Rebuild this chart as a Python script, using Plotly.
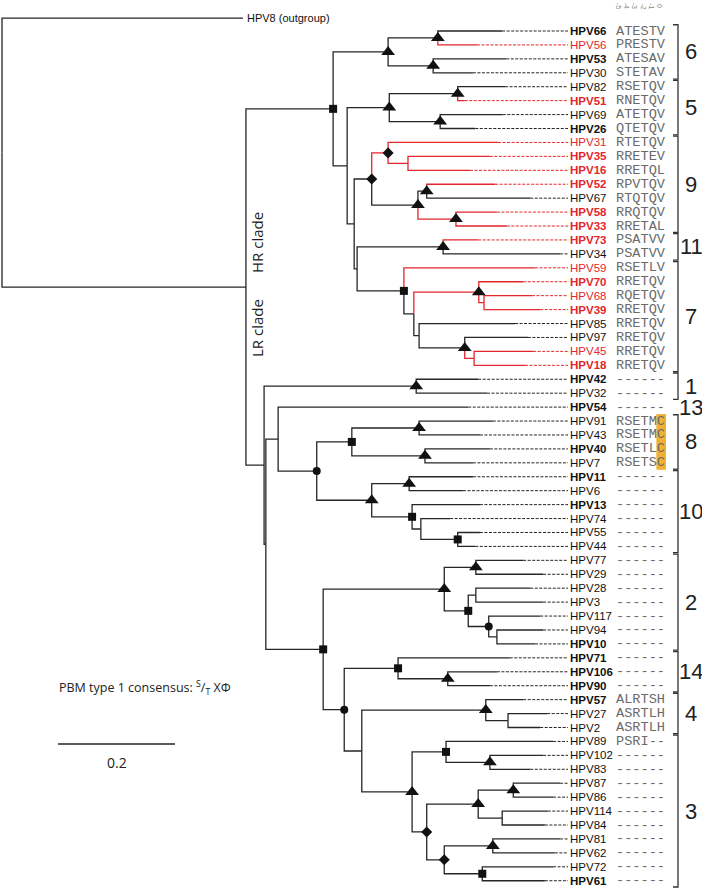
import plotly.graph_objects as go

# ---------------- data ----------------
LEAVES = ["HPV66", "HPV56", "HPV53", "HPV30", "HPV82", "HPV51", "HPV69", "HPV26",
          "HPV31", "HPV35", "HPV16", "HPV52", "HPV67", "HPV58", "HPV33", "HPV73",
          "HPV34", "HPV59", "HPV70", "HPV68", "HPV39", "HPV85", "HPV97", "HPV45",
          "HPV18", "HPV42", "HPV32", "HPV54", "HPV91", "HPV43", "HPV40", "HPV7",
          "HPV11", "HPV6", "HPV13", "HPV74", "HPV55", "HPV44", "HPV77", "HPV29",
          "HPV28", "HPV3", "HPV117", "HPV94", "HPV10", "HPV71", "HPV106", "HPV90",
          "HPV57", "HPV27", "HPV2", "HPV89", "HPV102", "HPV83", "HPV87", "HPV86",
          "HPV114", "HPV84", "HPV81", "HPV62", "HPV72", "HPV61"]

# depth (substitutions/site from root) at which each terminal branch ends
TIP_DEPTH = [0.855, 0.812, 0.862, 0.805, 0.860, 0.791, 0.856, 0.809,
             0.848, 0.834, 0.800, 0.843, 0.903, 0.846, 0.863, 0.814,
             0.954, 0.911, 0.891, 0.906, 0.920, 0.877, 0.899, 0.908,
             0.894, 0.814, 0.829, 0.797, 0.839, 0.817, 0.834, 0.805,
             0.805, 0.788, 0.817, 0.766, 0.817, 0.809, 0.891, 0.925,
             0.903, 0.925, 0.920, 0.925, 0.911, 0.868, 0.846, 0.834,
             0.891, 0.932, 0.920, 0.942, 0.925, 0.903, 0.954, 0.942,
             0.933, 0.928, 0.954, 0.945, 0.942, 0.928]

MOTIFS = ["ATESTV", "PRESTV", "ATESAV", "STETAV", "RSETQV", "RNETQV", "ATETQV", "QTETQV",
          "RTETQV", "RRETEV", "RRETQL", "RPVTQV", "RTQTQV", "RRQTQV", "RRETAL", "PSATVV",
          "PSATVV", "RSETLV", "RRETQV", "RQETQV", "RRETQV", "RRETQV", "RRETQV", "RRETQV",
          "RRETQV", "------", "------", "------", "RSETMC", "RSETMC", "RSETLC", "RSETSC",
          "------", "------", "------", "------", "------", "------", "------", "------",
          "------", "------", "------", "------", "------", "------", "------", "------",
          "ALRTSH", "ASRTLH", "ASRTLH", "PSRI--", "------", "------", "------", "------",
          "------", "------", "------", "------", "------", "------"]

RED_LEAVES = ["HPV56", "HPV51", "HPV31", "HPV35", "HPV16", "HPV52", "HPV58", "HPV33",
              "HPV73", "HPV59", "HPV70", "HPV68", "HPV39", "HPV45", "HPV18"]

BOLD_LEAVES = ["HPV66", "HPV53", "HPV51", "HPV26", "HPV35", "HPV16", "HPV52", "HPV58",
               "HPV33", "HPV73", "HPV70", "HPV39", "HPV18", "HPV42", "HPV54", "HPV40",
               "HPV11", "HPV13", "HPV10", "HPV71", "HPV106", "HPV90", "HPV57", "HPV61"]

OUTGROUP = "HPV8"
OUTGROUP_LABEL = "HPV8 (outgroup)"
OUTGROUP_DEPTH = 0.412
OUTGROUP_ROW = -0.93

# internal nodes: (id, depth, support symbol, children)
NODES = [
    ("n66_56", 0.745, "triangle-up", ["HPV66", "HPV56"]),
    ("n53_30", 0.737, "triangle-up", ["HPV53", "HPV30"]),
    ("c6", 0.660, "triangle-up", ["n66_56", "n53_30"]),
    ("n82_51", 0.779, "triangle-up", ["HPV82", "HPV51"]),
    ("n69_26", 0.749, "triangle-up", ["HPV69", "HPV26"]),
    ("c5", 0.662, "triangle-up", ["n82_51", "n69_26"]),
    ("n35_16", 0.694, None, ["HPV35", "HPV16"]),
    ("d2", 0.660, "diamond", ["HPV31", "n35_16"]),
    ("n52_67", 0.726, "triangle-up", ["HPV52", "HPV67"]),
    ("n58_33", 0.776, "triangle-up", ["HPV58", "HPV33"]),
    ("n52_33", 0.711, "triangle-up", ["n52_67", "n58_33"]),
    ("c9", 0.632, "diamond", ["d2", "n52_33"]),
    ("c11", 0.754, "triangle-up", ["HPV73", "HPV34"]),
    ("n68_39", 0.824, None, ["HPV68", "HPV39"]),
    ("n70_39", 0.815, "triangle-up", ["HPV70", "n68_39"]),
    ("n45_18", 0.807, None, ["HPV45", "HPV18"]),
    ("n97_18", 0.791, "triangle-up", ["HPV97", "n45_18"]),
    ("n85_18", 0.713, None, ["HPV85", "n97_18"]),
    ("n70_18", 0.704, None, ["n70_39", "n85_18"]),
    ("c7", 0.687, "square", ["HPV59", "n70_18"]),
    ("nB", 0.607, None, ["c11", "c7"]),
    ("nA", 0.602, None, ["c9", "nB"]),
    ("nC", 0.590, None, ["c5", "nA"]),
    ("HR", 0.566, "square", ["c6", "nC"]),
    ("c1", 0.708, "triangle-up", ["HPV42", "HPV32"]),
    ("n91_43", 0.713, "triangle-up", ["HPV91", "HPV43"]),
    ("n40_7", 0.723, "triangle-up", ["HPV40", "HPV7"]),
    ("c8", 0.598, "square", ["n91_43", "n40_7"]),
    ("n11_6", 0.696, "triangle-up", ["HPV11", "HPV6"]),
    ("n55_44", 0.779, "square", ["HPV55", "HPV44"]),
    ("n74_44", 0.716, None, ["HPV74", "n55_44"]),
    ("n13_44", 0.701, "square", ["HPV13", "n74_44"]),
    ("c10", 0.632, "triangle-up", ["n11_6", "n13_44"]),
    ("n8_10", 0.538, "circle", ["c8", "c10"]),
    ("nLR3", 0.472, None, ["HPV54", "n8_10"]),
    ("n77_29", 0.810, "triangle-up", ["HPV77", "HPV29"]),
    ("n28_3", 0.810, None, ["HPV28", "HPV3"]),
    ("n94_10", 0.846, None, ["HPV94", "HPV10"]),
    ("n117_10", 0.832, "circle", ["HPV117", "n94_10"]),
    ("n28_10", 0.797, "square", ["n28_3", "n117_10"]),
    ("c2", 0.756, "triangle-up", ["n77_29", "n28_10"]),
    ("n106_90", 0.762, "triangle-up", ["HPV106", "HPV90"]),
    ("c14", 0.677, "square", ["HPV71", "n106_90"]),
    ("n27_2", 0.865, None, ["HPV27", "HPV2"]),
    ("c4", 0.827, "triangle-up", ["HPV57", "n27_2"]),
    ("n102_83", 0.834, "triangle-up", ["HPV102", "HPV83"]),
    ("n89_83", 0.759, "square", ["HPV89", "n102_83"]),
    ("n87_86", 0.874, "triangle-up", ["HPV87", "HPV86"]),
    ("n114_84", 0.855, None, ["HPV114", "HPV84"]),
    ("n87_84", 0.814, "triangle-up", ["n87_86", "n114_84"]),
    ("n81_62", 0.839, "triangle-up", ["HPV81", "HPV62"]),
    ("n72_61", 0.821, "square", ["HPV72", "HPV61"]),
    ("n81_61", 0.756, "diamond", ["n81_62", "n72_61"]),
    ("n87_61", 0.726, "diamond", ["n87_84", "n81_61"]),
    ("c3", 0.701, "triangle-up", ["n89_83", "n87_61"]),
    ("nLR6", 0.615, None, ["c4", "c3"]),
    ("nLR5", 0.585, "circle", ["c14", "nLR6"]),
    ("nLR4", 0.549, "square", ["c2", "nLR5"]),
    ("nLR2", 0.451, None, ["nLR3", "nLR4"]),
    ("nLR1", 0.448, None, ["c1", "nLR2"]),
    ("ING", 0.417, None, ["HR", "nLR1"]),
    ("ROOT", 0.000, None, ["HPV8", "ING"]),
]

# clade brackets: (label, first leaf, last leaf, draw bracket)
CLADES = [("6", "HPV66", "HPV30", True), ("5", "HPV82", "HPV26", True),
          ("9", "HPV31", "HPV33", True), ("11", "HPV73", "HPV34", True),
          ("7", "HPV59", "HPV18", True), ("1", "HPV42", "HPV32", True),
          ("13", "HPV54", "HPV54", False), ("8", "HPV91", "HPV7", True),
          ("10", "HPV11", "HPV44", True), ("2", "HPV77", "HPV10", True),
          ("14", "HPV71", "HPV90", True), ("4", "HPV57", "HPV2", True),
          ("3", "HPV89", "HPV61", True)]

HIGHLIGHT_LEAVES = ["HPV91", "HPV43", "HPV40", "HPV7"]
POSITION_LABELS = ["-5", "-4", "-3", "-2", "-1", "0"]
SCALE_LENGTH = 0.2
SCALE_LABEL = "0.2"
CONSENSUS = "PBM type 1 consensus: <sup>S</sup>/<sub>T</sub> XΦ"

# ---------------- layout constants ----------------
PX = 585.0                      # pixels per substitution/site
X0 = -2 / PX
XR = [X0, X0 + 702 / PX]
ROW = 13.93                     # pixels per leaf row
YR = [(893 - 31) / ROW, -31 / ROW]

def xpx(p):
    return (p - 2) / PX

def ypx(p):
    return (p - 31) / ROW

ALIGN_X = xpx(568)
LABEL_X = xpx(569)
MOTIF_X = xpx(615)
CHAR_W = 8.17 / PX
BRACKET_X = xpx(678)
TICK_X = xpx(673)
NUM_X = xpx(691)

BLACK = "#262626"
RED = "#e2262c"
GREY = "#6a6a6a"

# ---------------- tree geometry ----------------
row = {n: i for i, n in enumerate(LEAVES)}
row[OUTGROUP] = OUTGROUP_ROW
depth = {n: d for n, d in zip(LEAVES, TIP_DEPTH)}
depth[OUTGROUP] = OUTGROUP_DEPTH
kids = {}
for nid, d, s, ch in NODES:
    depth[nid] = d
    kids[nid] = ch
for nid, d, s, ch in NODES:  # NODES listed children-first
    row[nid] = (row[ch[0]] + row[ch[-1]]) / 2.0

red_set = set(RED_LEAVES)

def all_red(n):
    if n in kids:
        return all(all_red(c) for c in kids[n])
    return n in red_set

segs = {"black": ([], []), "red": ([], [])}
for nid, d, s, ch in NODES:
    for c in ch:
        key = "red" if all_red(c) else "black"
        xs, ys = segs[key]
        xs += [d, d, depth[c], None]
        ys += [row[nid], row[c], row[c], None]

dash = {"black": ([], []), "red": ([], [])}
for n in LEAVES:
    key = "red" if n in red_set else "black"
    xs, ys = dash[key]
    xs += [depth[n], ALIGN_X, None]
    ys += [row[n], row[n], None]

fig = go.Figure()
for key, col in (("black", BLACK), ("red", RED)):
    xs, ys = dash[key]
    fig.add_trace(go.Scatter(x=xs, y=ys, mode="lines", hoverinfo="skip",
                             line=dict(color=col, width=1, dash="3px,1.5px")))
for key, col in (("black", BLACK), ("red", RED)):
    xs, ys = segs[key]
    fig.add_trace(go.Scatter(x=xs, y=ys, mode="lines", hoverinfo="skip",
                             line=dict(color=col, width=1.3)))

# support markers
msize = {"triangle-up": 12, "square": 8, "diamond": 8.5, "circle": 8}
for s in ("triangle-up", "square", "diamond", "circle"):
    ids = [nid for nid, d, ss, ch in NODES if ss == s]
    fig.add_trace(go.Scatter(x=[depth[i] for i in ids], y=[row[i] for i in ids],
                             mode="markers", hoverinfo="skip",
                             marker=dict(symbol=s, size=msize[s], color="#111111",
                                         line=dict(width=0))))

ann = []
LABEL_FONT = "Liberation Sans, Arial, sans-serif"
for n in LEAVES:
    txt = f"<b>{n}</b>" if n in BOLD_LEAVES else n
    ann.append(dict(x=LABEL_X, y=row[n], text=txt, xanchor="left", yanchor="middle",
                    showarrow=False, borderpad=0,
                    font=dict(family=LABEL_FONT, size=11.5,
                              color=RED if n in red_set else "#111111")))
ann.append(dict(x=depth[OUTGROUP] + 3 / PX, y=row[OUTGROUP], text=OUTGROUP_LABEL,
                xanchor="left", yanchor="middle", showarrow=False, borderpad=0,
                font=dict(family=LABEL_FONT, size=11, color="#111111")))

for n, m in zip(LEAVES, MOTIFS):
    ann.append(dict(x=MOTIF_X, y=row[n], text=m, xanchor="left", yanchor="middle",
                    showarrow=False, borderpad=0,
                    font=dict(family="Courier New, Liberation Mono, monospace",
                              size=13.6, color=GREY)))

for k, p in enumerate(POSITION_LABELS):
    ann.append(dict(x=MOTIF_X + CHAR_W * (k + 0.5), y=ypx(6), text=p, textangle=90,
                    xanchor="center", yanchor="middle", showarrow=False, borderpad=0,
                    font=dict(family="Liberation Sans, Arial", size=7, color="#888888")))

shapes = []
hl = [row[n] for n in HIGHLIGHT_LEAVES]
shapes.append(dict(type="rect", layer="below", xref="x", yref="y",
                   x0=MOTIF_X + CHAR_W * 5 + 0.5 / PX, x1=MOTIF_X + CHAR_W * 6 + 2 / PX,
                   y0=min(hl) - 0.5, y1=max(hl) + 0.5,
                   fillcolor="#f0b030", line=dict(width=0)))

for lab, a, b, br in CLADES:
    y0 = row[a] - 0.45
    y1 = row[b] + 0.45
    if br:
        shapes.append(dict(type="path", xref="x", yref="y",
                           path=f"M {TICK_X} {y0} L {BRACKET_X} {y0} L {BRACKET_X} {y1} L {TICK_X} {y1}",
                           line=dict(color="#333333", width=1.3)))
    ann.append(dict(x=NUM_X, y=(row[a] + row[b]) / 2, text=lab, xanchor="center",
                    yanchor="middle", showarrow=False, borderpad=0,
                    font=dict(family="Liberation Sans, Arial", size=22, color="#222222")))

# clade names
ann.append(dict(x=xpx(257), y=ypx(243), text="HR clade", textangle=-90, showarrow=False,
                xanchor="center", yanchor="middle",
                font=dict(family="Open Sans, Liberation Sans", size=15, color="#222222")))
ann.append(dict(x=xpx(257), y=ypx(328), text="LR clade", textangle=-90, showarrow=False,
                xanchor="center", yanchor="middle",
                font=dict(family="Open Sans, Liberation Sans", size=15, color="#222222")))

# consensus text and scale bar
ann.append(dict(x=xpx(57), y=ypx(688), text=CONSENSUS, xanchor="left", yanchor="middle",
                showarrow=False, font=dict(family="Open Sans, Liberation Sans", size=12.5,
                                           color="#222222")))
sb0 = xpx(58)
fig.add_trace(go.Scatter(x=[sb0, sb0 + SCALE_LENGTH], y=[ypx(744), ypx(744)], mode="lines",
                         hoverinfo="skip", line=dict(color=BLACK, width=1.3)))
ann.append(dict(x=sb0 + SCALE_LENGTH / 2, y=ypx(762), text=SCALE_LABEL, xanchor="center",
                yanchor="middle", showarrow=False,
                font=dict(family="Open Sans, Liberation Sans", size=14, color="#222222")))

fig.update_layout(width=702, height=893, margin=dict(l=0, r=0, t=0, b=0),
                  paper_bgcolor="white", plot_bgcolor="white", showlegend=False,
                  hovermode=False,
                  xaxis=dict(range=XR, visible=False, fixedrange=True),
                  yaxis=dict(range=YR, visible=False, fixedrange=True),
                  annotations=ann, shapes=shapes)
fig.write_html("out.html", config={"displayModeBar": False, "staticPlot": True},
               post_script="document.body.style.margin='0px';")
